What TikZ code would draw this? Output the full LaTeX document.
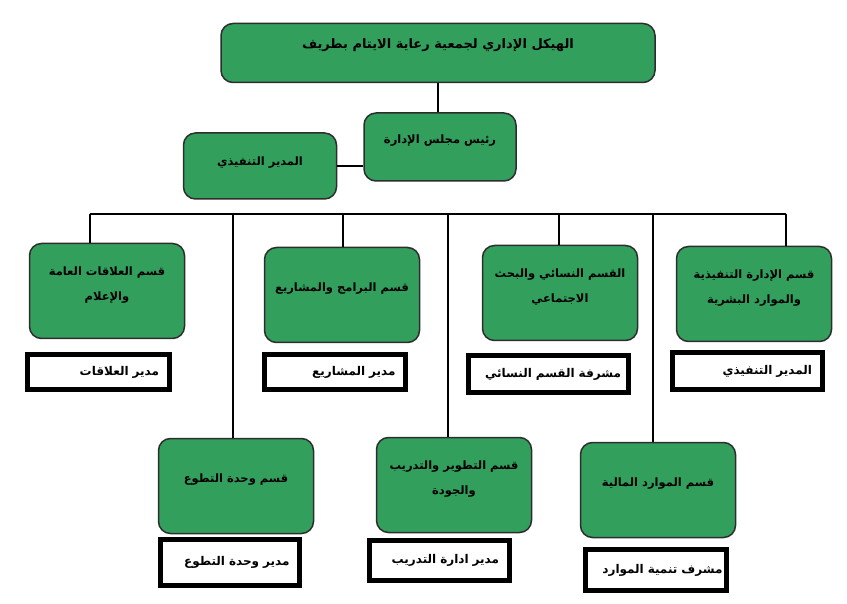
\documentclass[tikz,border=0pt]{standalone}
\usepackage{fontspec}
\newfontfamily\arabicfont[Script=Arabic]{DejaVu Sans}
\TeXXeTstate=1
\newcommand{\artxt}[1]{{\arabicfont\bfseries\beginR #1\endR}}
\definecolor{boxgreen}{RGB}{50,160,92}
\definecolor{boxedge}{RGB}{45,45,45}
\tikzset{
  dept/.style={draw=boxedge, line width=1.5pt, fill=boxgreen, rounded corners=12pt,
    minimum width=155pt, minimum height=95pt, align=center, font=\fontsize{11.5}{25}\selectfont,
    text depth=15pt},
  head/.style 2 args={draw=black, line width=5pt, fill=white, inner xsep=10pt,
    text width=#1, minimum height=#2, align=right, font=\fontsize{12}{14}\selectfont},
  conn/.style={line width=1.4pt}
}

\begin{document}
\begin{tikzpicture}[x=1pt,y=-1pt]
    \useasboundingbox (0,0) rectangle (847,604);
    % top of the chart
    \node[dept, minimum width=434pt, minimum height=59pt, font=\fontsize{13}{16}\selectfont,
        text depth=19pt] (top) at (438,53)
        {\artxt{الهيكل الإداري لجمعية رعاية الايتام بطريف}};
    \node[dept, minimum width=152pt, minimum height=68pt] (chair) at (440,147) {\artxt{رئيس مجلس الإدارة}};
    \node[dept, minimum width=153pt, minimum height=66pt, text depth=10pt] (exec) at (260,166) {\artxt{المدير التنفيذي}};
    \draw[conn] (top.south) -- (top.south |- chair.north);
    \draw[conn] (exec.east) -- (exec.east -| chair.west);

    % departments
    \node[dept] (relations) at (107,291) {\artxt{قسم العلاقات العامة}\\\artxt{والإعلام}};
    \node[dept] (programs) at (342,295) {\artxt{قسم البرامج والمشاريع}};
    \node[dept] (women) at (560,293) {\artxt{القسم النسائي والبحث}\\\artxt{الاجتماعي}};
    \node[dept] (admin) at (754,294) {\artxt{قسم الإدارة التنفيذية}\\\artxt{والموارد البشرية}};
    \node[dept] (volunteer) at (236,486) {\artxt{قسم وحدة التطوع}};
    \node[dept] (training) at (454,485) {\artxt{قسم التطوير والتدريب}\\\artxt{والجودة}};
    \node[dept] (finance) at (658,490) {\artxt{قسم الموارد المالية}};

    % bus line
    \coordinate (bRel) at (90,214);
    \coordinate (bVol) at (233,214);
    \coordinate (bPrg) at (343,214);
    \coordinate (bTrn) at (448,214);
    \coordinate (bWom) at (559,214);
    \coordinate (bFin) at (653,214);
    \coordinate (bAdm) at (786,214);
    \draw[conn] (bRel) -- (bAdm);
    \draw[conn] (bRel) -- (bRel |- relations.north);
    \draw[conn] (bVol) -- (bVol |- volunteer.north);
    \draw[conn] (bPrg) -- (bPrg |- programs.north);
    \draw[conn] (bTrn) -- (bTrn |- training.north);
    \draw[conn] (bWom) -- (bWom |- women.north);
    \draw[conn] (bFin) -- (bFin |- finance.north);
    \draw[conn] (bAdm) -- (bAdm |- admin.north);

    % heads
    \node[head={122pt}{35pt}] (hRel) at (98,372) {\artxt{مدير العلاقات}};
    \node[head={121pt}{35pt}] (hPrg) at (335,372) {\artxt{مدير المشاريع}};
    \node[head={146pt}{37pt}, inner xsep=7pt] (hWom) at (548,374) {\artxt{مشرفة القسم النسائي}};
    \node[head={130pt}{37pt}] (hAdm) at (747,371) {\artxt{المدير التنفيذي}};
    \node[head={119pt}{46pt}] (hVol) at (230,562) {\artxt{مدير وحدة التطوع}};
    \node[head={120pt}{40pt}] (hTrn) at (439,560) {\artxt{مدير ادارة التدريب}};
    \node[head={133pt}{41pt}, inner xsep=4pt] (hFin) at (656,570) {\artxt{مشرف تنمية الموارد}};
\end{tikzpicture}
\end{document}
